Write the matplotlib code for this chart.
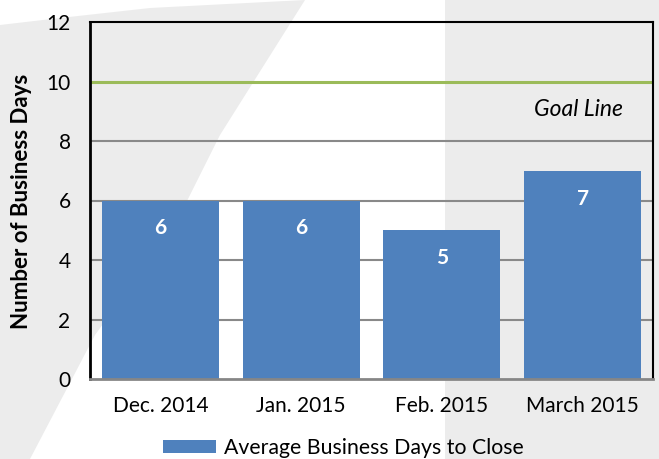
import matplotlib
matplotlib.use("Agg")
import matplotlib.pyplot as plt
from matplotlib.patches import Polygon

categories = ["Dec. 2014", "Jan. 2015", "Feb. 2015", "March 2015"]
values = [6, 6, 5, 7]
goal = 10
yticks = [0, 2, 4, 6, 8, 10, 12]
series_name = "Average Business Days to Close"

plt.rcParams['font.family'] = ['Lato', 'DejaVu Sans']

W, H = 659, 459
fig = plt.figure(figsize=(W / 100, H / 100), dpi=100)
fig.patch.set_facecolor('white')

def px(pts):
    return [(x / W, 1 - y / H) for x, y in pts]

wm = '#ececec'
fig.patches.append(Polygon(px([(0, 25), (60, 18), (150, 8), (305, 0), (220, 135), (175, 225), (95, 335), (30, 459), (0, 459)]),
                           closed=True, transform=fig.transFigure, facecolor=wm, edgecolor='none', zorder=-10))
fig.patches.append(Polygon(px([(445, 0), (659, 0), (659, 459), (445, 459)]),
                           closed=True, transform=fig.transFigure, facecolor=wm, edgecolor='none', zorder=-10))

ax = fig.add_axes([90 / W, 1 - 379 / H, (653 - 90) / W, (379 - 22) / H])
ax.patch.set_alpha(0)
ax.set_zorder(1)

x = list(range(len(categories)))
bars = ax.bar(x, values, width=0.83, color='#4f81bd', zorder=3, label=series_name)

ax.set_xlim(-0.5, len(categories) - 0.5)
ax.set_ylim(0, 12)
ax.set_yticks(yticks)
ax.set_xticks(x)
ax.set_xticklabels(categories)
ax.tick_params(axis='both', length=0, labelsize=15, colors='black')
ax.tick_params(axis='x', pad=12)
ax.tick_params(axis='y', pad=14)

for t in [2, 4, 6, 8]:
    ax.axhline(t, color='#898989', lw=1.5, zorder=1)
ax.axhline(goal, color='#9bbb59', lw=2.2, zorder=2)

for s in ['left', 'top', 'right']:
    ax.spines[s].set_color('black')
    ax.spines[s].set_linewidth(1.5)
ax.spines['left'].set_linewidth(2)
ax.spines['bottom'].set_color('#868686')
ax.spines['bottom'].set_linewidth(2)
for s in ax.spines.values():
    s.set_zorder(4)

for xi, v in zip(x, values):
    ax.annotate(str(v), xy=(xi, v), xytext=(0, -20), textcoords='offset points',
                ha='center', va='center', color='white', fontsize=15, fontweight='bold', zorder=5)

ax.text(2.97, 9.05, "Goal Line", ha='center', va='center', fontsize=16.5, style='italic', color='black')

fig.text(22 / W, 1 - 201 / H, "Number of Business Days", rotation=90, ha='center', va='center',
         fontsize=16, fontweight='bold')

fig.legend(handles=[bars], labels=[series_name], loc='center', bbox_to_anchor=(343 / W, 1 - 448 / H),
           frameon=False, fontsize=15.3, handlelength=2.5, handleheight=0.55, handletextpad=0.38)

fig.savefig('out.png', dpi=100)
